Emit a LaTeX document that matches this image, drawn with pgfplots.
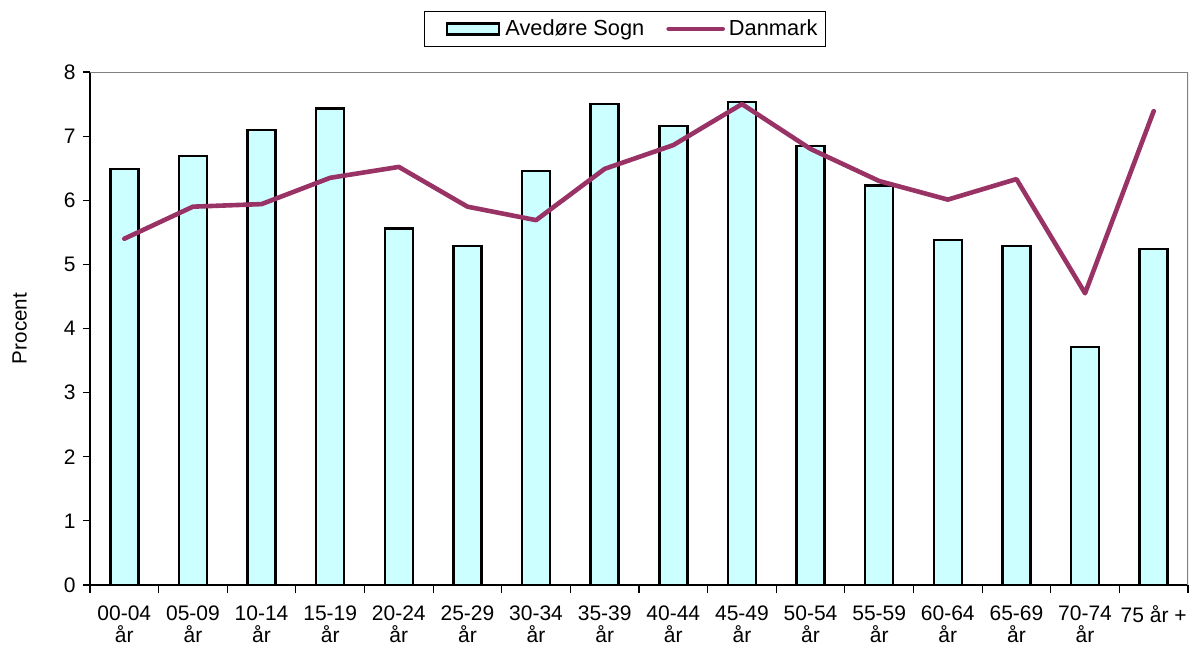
\documentclass[border=0pt]{standalone}
\usepackage{fontspec}
\setmainfont{Liberation Sans}
\usepackage{pgfplots}
\pgfplotsset{compat=1.18}
\definecolor{barfill}{HTML}{CCFFFF}
\definecolor{dkline}{HTML}{993366}

\begin{document}
\fontsize{10.5}{12.4}\selectfont
\begin{tikzpicture}
\begin{axis}[
    scale only axis,
    width=549pt, height=256.5pt,
    xmin=-0.5, xmax=15.5,
    ymin=0, ymax=8,
    axis lines*=left,
    axis line style={black, line width=0.7pt},
    tick align=outside,
    tick style={black, line width=0.6pt},
    major tick length=3.5pt,
    minor tick length=4pt,
    xtick={0,...,15},
    major x tick style={draw=none},
    minor xtick={-0.5,0.5,...,15.5},
    xticklabels={{00-04\\år},{05-09\\år},{10-14\\år},{15-19\\år},{20-24\\år},{25-29\\år},{30-34\\år},{35-39\\år},{40-44\\år},{45-49\\år},{50-54\\år},{55-59\\år},{60-64\\år},{65-69\\år},{70-74\\år},{75 år +}},
    xticklabel style={align=center, font=\fontsize{10.5}{11}\selectfont, yshift=-3pt},
    ytick={0,...,8},
    yticklabel style={font=\fontsize{10.5}{12}\selectfont},
    /pgf/number format/assume math mode=true,
    ylabel={Procent},
    ylabel style={at={(axis description cs:-0.064,0.5)}, anchor=center, font=\fontsize{10.3}{12}\selectfont},
    legend columns=2,
    legend style={
        at={(0.487,1.084)}, anchor=center,
        draw=black, line width=0.5pt,
        font=\fontsize{10.9}{12}\selectfont,
        inner xsep=2pt, inner ysep=2pt,
        /tikz/every even column/.append style={column sep=0pt},
    },
]
\addplot[ybar, bar width=14pt, fill=barfill, draw=black, line width=1.2pt,
    legend image code/.code={\path (-9pt,0pt) (26.5pt,0pt);
        \draw[fill=barfill, draw=black, line width=1.2pt] (0pt,-2.75pt) rectangle (26pt,2.75pt);}]
coordinates {
    (0,6.49) (1,6.69) (2,7.10) (3,7.43) (4,5.56) (5,5.29) (6,6.46) (7,7.50)
    (8,7.16) (9,7.53) (10,6.85) (11,6.23) (12,5.38) (13,5.29) (14,3.71) (15,5.24)
};
\addlegendentry{Avedøre Sogn}
\addplot[dkline, line width=2.3pt, line join=round, line cap=round, mark=none,
    legend image code/.code={\path (-9pt,0pt) (27pt,0pt);
        \draw[dkline, line width=2.3pt, line cap=round] (0pt,0pt) -- (27pt,0pt);}]
coordinates {
    (0,5.40) (1,5.90) (2,5.94) (3,6.35) (4,6.52) (5,5.90) (6,5.69) (7,6.49)
    (8,6.86) (9,7.50) (10,6.80) (11,6.30) (12,6.01) (13,6.33) (14,4.55) (15,7.39)
};
\addlegendentry{Danmark}
\draw[gray, line width=0.7pt] (rel axis cs:0,1) -- (rel axis cs:1,1) -- (rel axis cs:1,0);
\end{axis}
\pgfresetboundingbox
\path[use as bounding box] (-45pt,-29.5pt) rectangle (550pt,292.5pt);
\end{tikzpicture}
\end{document}
